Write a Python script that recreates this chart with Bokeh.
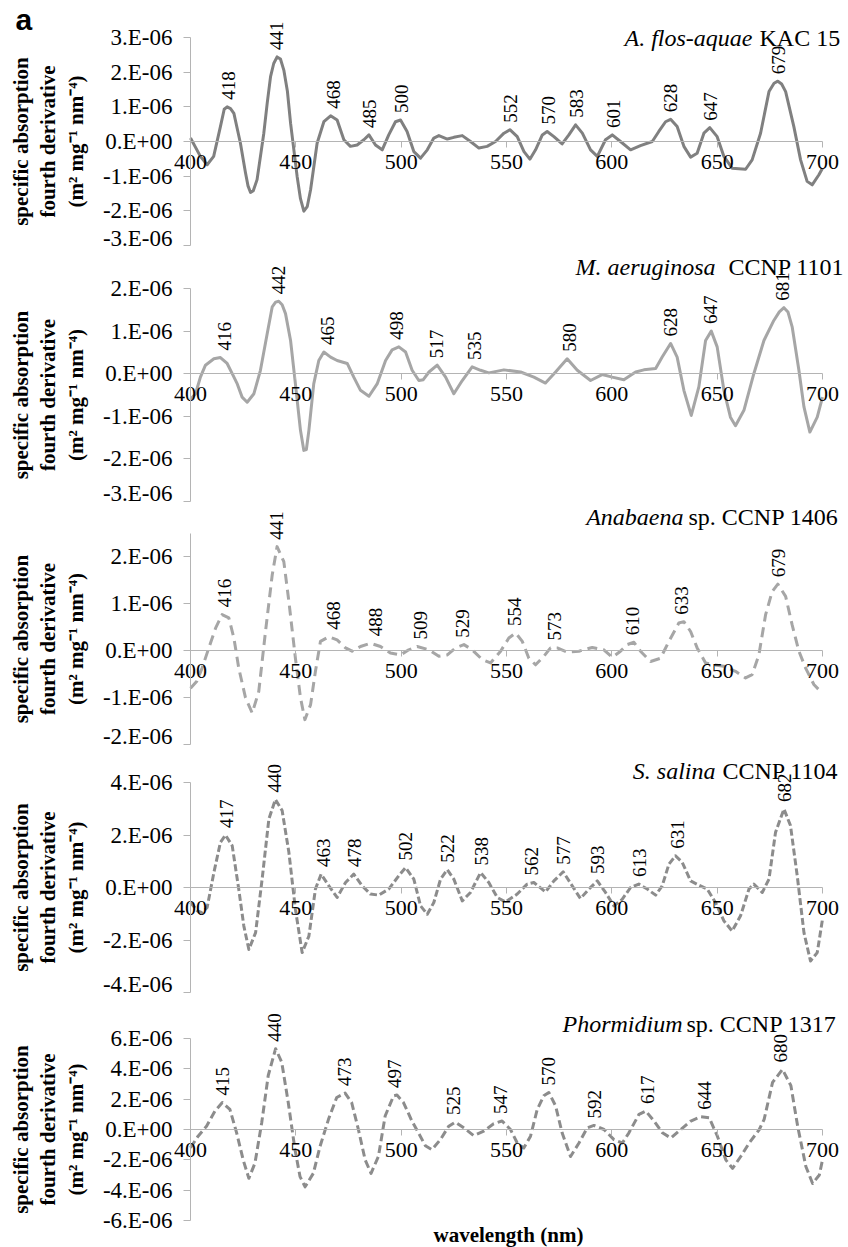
import math
from bokeh.plotting import figure
from bokeh.models import (Range1d, FixedTicker, CustomJSTickFormatter, LabelSet,
                          Label, ColumnDataSource)
from bokeh.layouts import column
from bokeh.embed import file_html
from bokeh.resources import INLINE

# ---------------- data (values in units of 1e-6 m2 mg-1 nm-4) ----------------
x_ticks = [400, 450, 500, 550, 600, 650, 700]

# Panel 1: A. flos-aquae KAC 15
wl_1 = [400, 404.7, 407.9, 411, 414.2, 416, 417.4, 419, 420.6, 423.7, 426.1, 427.3, 428.5, 429.8, 431.6,
        434.8, 436.4, 438, 439.5, 441.1, 442.7, 444.3, 446, 447.5, 450.6, 452.2, 453.8, 455.4, 457, 460.1,
        463.3, 466.5, 469.6, 472.8, 475.9, 479.1, 482.3, 484.7, 487.8, 491, 494.1, 497.3, 499.7,
        502.8, 506, 509.2, 512.4, 515.5, 517.9, 521.9, 525, 529, 532.9, 536.9, 540.8, 544.8,
        548.8, 551.6, 555.1, 558.3, 561.1, 563.8, 567, 569.3, 572.5, 576.4, 579.6, 582.8, 586,
        589.9, 593.1, 597, 600.2, 604.1, 608.9, 613.6, 619.2, 622.3, 625.5, 627.9, 631, 634.2,
        637.4, 640.5, 643.7, 646.5, 650, 653.2, 657.1, 663.5, 666.6, 670.6, 674.6, 677, 678.8,
        680.6, 682.5, 686.4, 689.6, 692.7, 695.1, 698.3, 700]
val_1 = [0.1, -0.43, -0.67, -0.43, 0.43, 0.93, 1.0, 0.95, 0.81, -0.05, -0.9, -1.28, -1.47, -1.42, -1.1,
         0.24, 1.1, 1.87, 2.25, 2.44, 2.38, 2.06, 1.45, 0.53, -1.0, -1.65, -2.01, -1.88, -1.39, -0.05,
         0.57, 0.74, 0.62, 0.05, -0.14, -0.1, 0.05, 0.19, -0.1, -0.24, 0.19, 0.57, 0.62,
         0.29, -0.29, -0.48, -0.24, 0.1, 0.17, 0.07, 0.12, 0.17, 0.0, -0.19, -0.14, 0.0,
         0.24, 0.34, 0.14, -0.29, -0.51, -0.24, 0.19, 0.29, 0.14, -0.07, 0.19, 0.48, 0.24,
         -0.24, -0.43, 0.05, 0.19, 0.0, -0.24, -0.12, 0.0, 0.29, 0.57, 0.64, 0.43, -0.14,
         -0.45, -0.34, 0.24, 0.40, 0.14, -0.43, -0.77, -0.8, -0.53, 0.24, 1.44, 1.68, 1.74,
         1.66, 1.44, 0.43, -0.53, -1.15, -1.25, -0.96, -0.77]
peaks_1 = [418, 441, 468, 485, 500, 552, 570, 583, 601, 628, 647, 679]
peakv_1 = [1.0, 2.44, 0.74, 0.19, 0.62, 0.34, 0.29, 0.48, 0.19, 0.64, 0.40, 1.74]

# Panel 2: M. aeruginosa CCNP 1101
wl_2 = [400, 402.4, 404.7, 407.1, 411.1, 414.2, 417.4, 419.8, 422.2, 424.5, 426.9, 430.1, 433.2,
        436.4, 438.8, 440.4, 441.9, 443.5, 445.1, 447.5, 449.8, 452.2, 453.8, 455, 456.2, 458.5, 460.9,
        463.3, 466.5, 469.6, 474.4, 477.5, 480.7, 484.7, 488.6, 492.6, 495.7, 498.9, 502.1,
        505.2, 508.4, 510.5, 513.2, 517.1, 521.1, 525, 529, 533.7, 537.7, 541.6, 548.8, 556.7,
        563, 568.5, 573.3, 578.8, 583.6, 589.9, 595.4, 600.2, 605.7, 611.3, 615.2, 620.8,
        623.9, 627.9, 631, 634.2, 637.7, 641.3, 644.5, 647.2, 650, 653.2, 656.3, 658.7, 662.7,
        667.4, 672.2, 676.9, 679.5, 681.7, 683.6, 685.6, 688.8, 691.2, 694, 697.5, 700]
val_2 = [-0.6, -0.47, -0.08, 0.2, 0.35, 0.38, 0.24, 0.0, -0.24, -0.55, -0.67, -0.47, 0.08,
         0.94, 1.57, 1.68, 1.70, 1.62, 1.41, 0.78, -0.24, -1.33, -1.80, -1.78, -1.33, -0.24, 0.31,
         0.51, 0.39, 0.31, 0.24, -0.08, -0.39, -0.53, -0.24, 0.31, 0.56, 0.63, 0.51,
         0.08, -0.16, -0.14, 0.04, 0.2, -0.08, -0.47, -0.16, 0.16, 0.08, 0.02, 0.09, 0.04,
         -0.08, -0.22, 0.04, 0.35, 0.08, -0.16, -0.02, -0.08, -0.14, 0.04, 0.09, 0.12,
         0.39, 0.71, 0.39, -0.39, -0.98, -0.31, 0.78, 1.0, 0.63, -0.39, -1.02, -1.22, -0.86,
         0.0, 0.78, 1.25, 1.45, 1.55, 1.45, 1.1, 0.08, -0.78, -1.37, -1.02, -0.55]
peaks_2 = [416, 442, 465, 498, 517, 535, 580, 628, 647, 681]
peakv_2 = [0.38, 1.70, 0.51, 0.63, 0.2, 0.16, 0.35, 0.71, 1.0, 1.55]

# Panel 3: Anabaena sp. CCNP 1406
wl_3 = [400, 403, 405.5, 408.7, 411.9, 415, 418.2, 420.6, 422.9, 426.1, 429.3, 432.4, 435.6,
        438.8, 441.1, 444.3, 446.7, 449.8, 452.2, 454.3, 457, 459.3, 461.7, 465.7, 469.6,
        473.6, 476.7, 480.7, 485.4, 490.2, 494.9, 499.7, 503.6, 507.6, 513.2, 517.9, 521.9,
        525.8, 529.8, 533.7, 538.5, 542.4, 547.2, 551.1, 554.3, 557.5, 560.6, 563.8, 567.7,
        570.9, 574.1, 578.8, 584.4, 590.7, 596.2, 600.2, 604.1, 607.3, 610.5, 613.6, 618.4,
        623.1, 627.1, 631.8, 634.2, 637.4, 640.5, 644.5, 648.4, 653.2, 658.7, 663.5, 666.6,
        669.8, 673, 676.1, 678.8, 682.5, 685.6, 688.8, 692, 695.9, 699.1, 700]
val_3 = [-0.8, -0.65, -0.37, 0.06, 0.48, 0.77, 0.7, 0.27, -0.37, -1.0, -1.33, -0.87, 0.41,
         1.62, 2.22, 1.9, 1.05, -0.16, -1.0, -1.47, -1.15, -0.44, 0.2, 0.3, 0.23,
         0.06, -0.01, 0.09, 0.16, 0.09, -0.05, -0.09, 0.02, 0.09, 0.02, -0.12, -0.09,
         0.06, 0.13, 0.02, -0.19, -0.26, -0.01, 0.27, 0.38, 0.2, -0.16, -0.3, -0.12,
         0.06, 0.06, -0.03, -0.01, 0.07, 0.02, -0.14, -0.01, 0.13, 0.18, -0.01, -0.23,
         -0.16, 0.2, 0.59, 0.62, 0.41, 0.06, -0.26, -0.3, -0.33, -0.44, -0.58, -0.51,
         -0.09, 0.77, 1.26, 1.42, 1.16, 0.55, -0.01, -0.37, -0.72, -0.87, -0.9]
peaks_3 = [416, 441, 468, 488, 509, 529, 554, 573, 610, 633, 679]
peakv_3 = [0.78, 2.22, 0.3, 0.16, 0.09, 0.13, 0.38, 0.07, 0.18, 0.62, 1.42]

# Panel 4: S. salina CCNP 1104
wl_4 = [400, 403.2, 405.5, 407.9, 411.1, 414.2, 416.6, 419.8, 422.9, 425.3, 427.7, 430.9, 434,
        437.2, 440.3, 443.5, 446.7, 449.8, 453, 456.2, 459.3, 462, 465.7, 469.6, 473.6, 477.5,
        481.5, 485.4, 489.4, 494.1, 498.9, 502.1, 506, 509.2, 512.4, 515.5, 518.7, 521.9, 525,
        529, 532.9, 537.7, 541.6, 545.6, 549.5, 555.1, 559.8, 563, 568.5, 572.5, 576.9, 581.2,
        585.1, 589.1, 593.1, 597, 601, 604.9, 608.9, 612.8, 616.8, 620.8, 623.9, 627.1, 630.2,
        633.4, 637.4, 641.3, 645.3, 649.2, 653.2, 657.1, 661.1, 665.1, 667.4, 671.4, 674.6,
        677.7, 681.7, 684.8, 688, 691.2, 694.3, 697.5, 700]
val_4 = [-0.57, -0.89, -0.96, -0.76, 0.57, 1.72, 2.0, 1.59, -0.06, -1.46, -2.36, -1.72, 0.32,
         2.61, 3.35, 2.93, 1.34, -0.83, -2.48, -1.85, -0.06, 0.51, 0.06, -0.38, 0.19, 0.51,
         0.06, -0.25, -0.29, -0.06, 0.45, 0.76, 0.32, -0.7, -1.02, -0.57, 0.32, 0.68, 0.32,
         -0.51, -0.19, 0.57, 0.19, -0.38, -0.55, -0.25, 0.13, 0.19, -0.17, 0.25, 0.6, 0.06,
         -0.42, -0.06, 0.25, -0.19, -0.7, -0.45, 0.0, 0.13, -0.06, -0.29, 0.06, 0.89, 1.21,
         0.96, 0.25, 0.09, -0.06, -0.57, -1.27, -1.66, -1.08, -0.06, 0.13, -0.19, 0.32,
         2.1, 2.99, 2.36, 0.45, -1.72, -2.8, -2.48, -1.21]
peaks_4 = [417, 440, 463, 478, 502, 522, 538, 562, 577, 593, 613, 631, 682]
peakv_4 = [2.0, 3.35, 0.51, 0.51, 0.76, 0.68, 0.57, 0.19, 0.6, 0.25, 0.13, 1.21, 2.99]

# Panel 5: Phormidium sp. CCNP 1317
wl_5 = [400, 403.6, 407.6, 411.6, 415.1, 418.7, 421.9, 425, 427.7, 430.6, 433.8, 436.9, 440.4,
        443.3, 446.4, 449.6, 452, 454.4, 458.3, 461.5, 465.5, 469.4, 473.4, 476.5, 479.7, 482.9,
        485.7, 489.2, 492.4, 496.4, 498, 501.1, 505.1, 508.7, 511.5, 514.6, 518.6, 522.6, 525.7,
        529.7, 534.4, 539.2, 543.9, 547.9, 551.9, 555.1, 558.2, 561.4, 564.6, 567.7, 570.1,
        573.3, 576.4, 580.4, 584.4, 588.3, 591.5, 596.3, 601, 605, 608.1, 612.9, 616.1, 620,
        624, 628, 632.7, 637.5, 642.2, 646.2, 650.1, 654.1, 657.3, 661.2, 665.2, 670, 672.3,
        676.3, 681, 685, 688.2, 692.1, 695.3, 698.5, 700]
val_5 = [-1.2, -0.44, 0.22, 1.22, 1.78, 1.33, -0.22, -2.0, -3.22, -2.22, 0.44, 3.56, 5.33,
         4.44, 1.78, -1.33, -3.11, -3.78, -2.89, -1.11, 0.67, 2.11, 2.4, 1.78, 0.0, -2.0,
         -2.89, -1.78, 0.89, 2.22, 2.27, 1.78, 0.56, -0.35, -1.07, -1.33, -0.67, 0.22, 0.49,
         0.11, -0.4, -0.11, 0.38, 0.56, 0.0, -0.89, -1.22, -0.44, 1.33, 2.22, 2.44,
         1.56, -0.22, -1.78, -0.89, 0.11, 0.27, 0.0, -0.67, -0.89, -0.22, 1.0, 1.22, 0.56,
         -0.22, -0.56, 0.0, 0.56, 0.84, 0.78, -0.44, -2.0, -2.56, -1.78, -0.89, 0.0, 0.67,
         3.11, 3.96, 2.89, 0.22, -2.44, -3.56, -3.0, -2.0]
peaks_5 = [415, 440, 473, 497, 525, 547, 570, 592, 617, 644, 680]
peakv_5 = [1.78, 5.33, 2.4, 2.27, 0.49, 0.56, 2.44, 0.27, 1.22, 0.84, 3.96]

y_ticks_1 = [-3, -2, -1, 0, 1, 2, 3]
y_ticks_2 = [-3, -2, -1, 0, 1, 2]
y_ticks_3 = [-2, -1, 0, 1, 2]
y_ticks_4 = [-4, -2, 0, 2, 4]
y_ticks_5 = [-6, -4, -2, 0, 2, 4, 6]

species = ["A. flos-aquae", "M. aeruginosa", "Anabaena", "S. salina", "Phormidium"]
strains = ["KAC 15", "CCNP 1101", "sp. CCNP 1406", "CCNP 1104", "sp. CCNP 1317"]

y_title = "specific absorption\nfourth derivative\n(m\u00b2 mg\u207b\u00b9 nm\u207b\u2074)"

# ---------------- styling / layout ----------------
SERIF = "Liberation Serif"
W = 848
PLOT_L, PLOT_W = 190, 632          # pixel position of 400 nm and width of 400-700 nm
KX = PLOT_W / 300.0
X0 = 400 - PLOT_L / KX
X1 = X0 + W / KX

panel_cfg = [
    # y axis span, plot height, space above, space below, colour, dash,
    # italic title end / roman title start (canvas x), title middle (px from figure top)
    dict(yr=(-3, 3), fh=208, top=37, bot=5, color="#808080", dash="solid", sx=752, nx=759, tm=37),
    dict(yr=(-3, 2), fh=213, top=38, bot=4, color="#A6A6A6", dash="solid", sx=715, nx=728, tm=16),
    dict(yr=(-2, 2.5), fh=211, top=28, bot=4, color="#A6A6A6", dash="10 6", sx=683, nx=688, tm=11),
    dict(yr=(-4, 4), fh=210, top=34, bot=4, color="#8C8C8C", dash="7 3", sx=715, nx=722, tm=22),
    dict(yr=(-6, 6), fh=182, top=42, bot=27, color="#8C8C8C", dash="8 4", sx=682, nx=686, tm=27),
]
series = [(wl_1, val_1, peaks_1, peakv_1, y_ticks_1),
          (wl_2, val_2, peaks_2, peakv_2, y_ticks_2),
          (wl_3, val_3, peaks_3, peakv_3, y_ticks_3),
          (wl_4, val_4, peaks_4, peakv_4, y_ticks_4),
          (wl_5, val_5, peaks_5, peakv_5, y_ticks_5)]

fmt = CustomJSTickFormatter(code="return tick == 0 ? '0.E+00' : tick.toFixed(0) + '.E-06';")
AXC = "#B4B4B4"

figs = []
for i, (cfg, (wl, vals, pk, pv, yt)) in enumerate(zip(panel_cfg, series)):
    ymin, ymax = cfg["yr"]
    H = cfg["top"] + cfg["fh"] + cfg["bot"]
    ku = cfg["fh"] / float(ymax - ymin)
    ys = ymin - cfg["bot"] / ku
    ye = ymax + cfg["top"] / ku
    p = figure(width=W, height=H, x_range=Range1d(X0, X1), y_range=Range1d(ys, ye),
               output_backend="svg", toolbar_location=None,
               min_border_left=0, min_border_right=0, min_border_top=0, min_border_bottom=0)
    p.background_fill_color = "white"
    p.border_fill_color = "white"
    p.outline_line_color = None
    p.xgrid.visible = False
    p.ygrid.visible = False

    p.line(wl, vals, line_color=cfg["color"], line_width=3, line_dash=cfg["dash"],
           line_join="round", line_cap="butt")

    xa = p.xaxis[0]
    xa.fixed_location = 0
    xa.bounds = (400, 700)
    xa.ticker = FixedTicker(ticks=x_ticks)
    xa.axis_line_color = AXC
    xa.major_tick_line_color = AXC
    xa.major_tick_out = 6
    xa.major_tick_in = 0
    xa.minor_tick_line_color = None
    xa.major_label_text_font = SERIF
    xa.major_label_text_font_size = "22px"
    xa.major_label_text_color = "black"
    xa.major_label_standoff = 7

    ya = p.yaxis[0]
    ya.fixed_location = 400
    ya.bounds = (ymin, ymax)
    ya.ticker = FixedTicker(ticks=yt)
    ya.formatter = fmt
    ya.axis_line_color = AXC
    ya.major_tick_line_color = AXC
    ya.major_tick_out = 7
    ya.major_tick_in = 0
    ya.minor_tick_line_color = None
    ya.major_label_text_font = SERIF
    ya.major_label_text_font_size = "23px"
    ya.major_label_text_color = "black"
    ya.major_label_standoff = 11
    ya.axis_label = y_title
    ya.axis_label_text_font = SERIF
    ya.axis_label_text_font_size = "21px"
    ya.axis_label_text_font_style = "bold"
    ya.axis_label_text_color = "black"
    ya.axis_label_text_line_height = 1.15
    ya.axis_label_standoff = 12

    src = ColumnDataSource(dict(x=pk, y=pv, t=[str(v) for v in pk]))
    p.add_layout(LabelSet(x="x", y="y", text="t", source=src, angle=math.pi / 2,
                          text_align="left", text_baseline="middle", y_offset=7,
                          text_font=SERIF, text_font_size="19px", text_color="black"))

    ty = H - cfg["tm"]
    p.add_layout(Label(x=cfg["sx"], y=ty, x_units="screen", y_units="screen",
                       text=species[i], text_align="right", text_baseline="middle",
                       text_font=SERIF, text_font_size="24px", text_font_style="italic",
                       text_color="black"))
    p.add_layout(Label(x=cfg["nx"], y=ty, x_units="screen", y_units="screen",
                       text=strains[i], text_align="left", text_baseline="middle",
                       text_font=SERIF, text_font_size="24px", text_color="black"))
    figs.append((p, H))

p1, H1 = figs[0]
p1.add_layout(Label(x=15, y=H1 - 19, x_units="screen", y_units="screen", text="a",
                    text_font="Liberation Sans", text_font_size="30px",
                    text_font_style="bold", text_color="black",
                    text_baseline="middle", text_align="left"))
p5, H5 = figs[-1]
p5.add_layout(Label(x=508, y=13, x_units="screen", y_units="screen",
                    text="wavelength (nm)", text_align="center",
                    text_baseline="middle", text_font=SERIF,
                    text_font_size="21px", text_font_style="bold", text_color="black"))

layout = column(*[f for f, _ in figs], spacing=0)
open("out.html", "w").write(file_html(layout, INLINE))
